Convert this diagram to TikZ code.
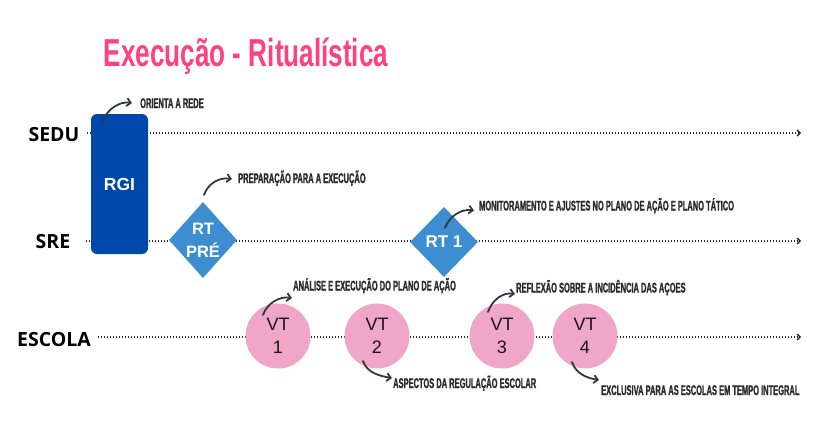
\documentclass[tikz,border=0pt]{standalone}
\usepackage{fontspec}
\setmainfont{Liberation Sans}
\newfontfamily\titlefont[FakeStretch=0.67]{Liberation Sans}
\newfontfamily\notefont[FakeStretch=0.535,FakeBold=1.2]{Liberation Sans}
\newfontfamily\lanefont{Open Sans}
\usetikzlibrary{shapes.geometric,arrows.meta}
\definecolor{titlepink}{HTML}{FF4081}
\definecolor{rgiblue}{HTML}{0047AB}
\definecolor{rtblue}{HTML}{3D8ED0}
\definecolor{vtpink}{HTML}{F0A6C8}
\definecolor{inkdark}{HTML}{2B2B2B}
\definecolor{vtink}{HTML}{151515}
\definecolor{arrowdark}{HTML}{2E3A40}
\tikzset{
  titlestyle/.style={inner sep=0pt, text=titlepink, font=\titlefont\bfseries\fontsize{39}{39}\selectfont},
  lanelabel/.style={inner sep=0pt, text=black, font=\lanefont\bfseries\fontsize{19.5}{20}\selectfont},
  laneline/.style={draw=inkdark, line width=1.3pt, dash pattern=on 1.3pt off 1.7pt, -{Straight Barb[length=3pt,width=6pt]}},
  rgibox/.style={rectangle, rounded corners=6pt, fill=rgiblue, minimum width=57pt, minimum height=140pt, inner sep=0pt, text=white, font=\bfseries\fontsize{17.5}{20}\selectfont},
  rtdiamond/.style={diamond, fill=rtblue, inner sep=0pt, minimum width=68pt, minimum height=#1, text=white, font=\bfseries\fontsize{17}{23}\selectfont},
  rttext/.style={text=white, align=center, inner sep=0pt, font=\bfseries\fontsize{16.5}{23}\selectfont},
  vtcircle/.style={circle, fill=vtpink, minimum size=65pt, inner sep=0pt, align=center, text=vtink, font=\fontsize{18}{23}\selectfont},
  notetext/.style={inner sep=0pt, anchor=base west, text=inkdark, font=\notefont\bfseries\fontsize{14}{14}\selectfont},
  noteup/.style={draw=arrowdark, line width=1.8pt, line cap=round, -{Straight Barb[length=4pt,width=8pt]}},
}
\begin{document}
\begin{tikzpicture}[x=1pt,y=-1pt]
\useasboundingbox (0,0) rectangle (836,421);
% title
\node[titlestyle, anchor=base] (title) at (246,66) {Execução - Ritualística};
% lane labels
\node[lanelabel, anchor=base] (sedu) at (54,141) {SEDU};
\node[lanelabel, anchor=base] (sre) at (53,248) {SRE};
\node[lanelabel, anchor=base] (escola) at (54,346) {ESCOLA};
% lane lines
\coordinate (seduS) at (87,133);
\coordinate (seduE) at (801,133);
\coordinate (sreS) at (86,241);
\coordinate (sreE) at (801,241);
\coordinate (escS) at (98,337);
\coordinate (escE) at (801,337);
\draw[laneline] (seduS) -- (seduE);
\draw[laneline] (sreS) -- (sreE);
\draw[laneline] (escS) -- (escE);
% shapes
\node[rgibox] (rgi) at (119.5,184) {RGI};
\node[rtdiamond=76pt, label={[rttext]center:{RT\\PRÉ}}] (rtpre) at (203,240) {};
\node[rtdiamond=70pt] (rt1) at (444,242) {RT 1};
\node[vtcircle] (vt1) at (278,336) {VT\\1};
\node[vtcircle] (vt2) at (377,336) {VT\\2};
\node[vtcircle] (vt3) at (502,336) {VT\\3};
\node[vtcircle] (vt4) at (585,336) {VT\\4};
% notes
\node[notetext] (n1) at (140,108) {ORIENTA A REDE};
\node[notetext] (n2) at (238,183) {PREPARAÇÃO PARA A EXECUÇÃO};
\node[notetext] (n3) at (479,210.5) {MONITORAMENTO E AJUSTES NO PLANO DE AÇÃO E PLANO TÁTICO};
\node[notetext] (n4) at (293,290.5) {ANÁLISE E EXECUÇÃO DO PLANO DE AÇÃO};
\node[notetext] (n5) at (393,388) {ASPECTOS DA REGULAÇÃO ESCOLAR};
\node[notetext] (n6) at (516,292.5) {REFLEXÃO SOBRE A INCIDÊNCIA DAS AÇOES};
\node[notetext] (n7) at (601,395) {EXCLUSIVA PARA AS ESCOLAS EM TEMPO INTEGRAL};
% curved arrows
\draw[noteup] ([shift={(-16.5,-63)}]rgi.center) .. controls +(4,-12) and +(-12,-2) .. ([shift={(-8,-5)}]n1.base west);
\draw[noteup] ([shift={(1,-45)}]rtpre.center) .. controls +(4,-12) and +(-12,-2) .. ([shift={(-6,-4)}]n2.base west);
\draw[noteup] ([shift={(1,-14)}]rt1.center) .. controls +(4,-12) and +(-12,-2) .. ([shift={(-5,0)}]n3.base west);
\draw[noteup] ([shift={(-15,-21)}]vt1.center) .. controls +(4,-12) and +(-12,-2) .. ([shift={(-1,7.5)}]n4.base west);
\draw[noteup] ([shift={(-14,25)}]vt2.center) .. controls +(4,12) and +(-12,-2) .. ([shift={(-1,-10)}]n5.base west);
\draw[noteup] ([shift={(-14,-24)}]vt3.center) .. controls +(4,-12) and +(-12,-2) .. ([shift={(-1,1.5)}]n6.base west);
\draw[noteup] ([shift={(-13,26)}]vt4.center) .. controls +(4,12) and +(-12,-2) .. ([shift={(-2,-15)}]n7.base west);
\end{tikzpicture}
\end{document}
